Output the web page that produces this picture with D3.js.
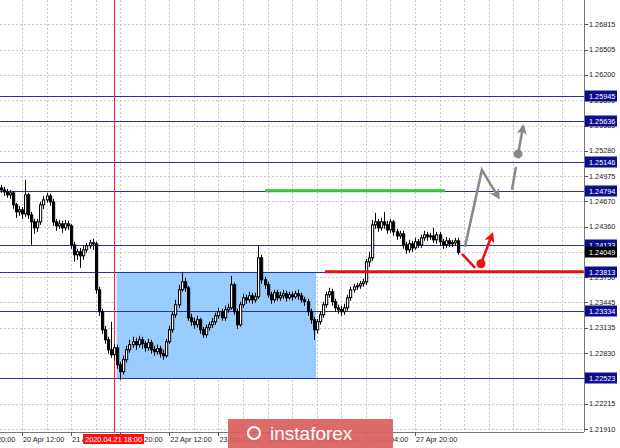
<!DOCTYPE html>
<html><head><meta charset="utf-8">
<script src="https://cdn.jsdelivr.net/npm/d3@7"></script>
<style>body{margin:0;background:#fff}svg{display:block}text{font-family:"Liberation Sans",Arial,sans-serif}</style>
</head><body><svg id="c" width="620" height="448"></svg>
<script>
// EURUSD-like H1 candles, bar index 0 = 20 Apr 05:00
const opens = [
1.24830,1.24806,1.24782,1.24746,1.24770,1.24625,1.24540,1.24564,1.24516,1.24746,
1.24504,1.24419,1.24346,1.24419,1.24625,1.24685,1.24733,1.24661,1.24419,1.24370,
1.24395,1.24346,1.24395,1.24370,1.24141,1.24020,1.24056,1.24007,1.24080,1.24128,
1.24165,1.24153,1.23596,1.23330,1.23112,1.22991,1.22870,1.22810,1.22894,1.22689,
1.22604,1.22749,1.22870,1.22931,1.22967,1.22931,1.22991,1.22943,1.22894,1.22955,
1.22870,1.22846,1.22882,1.22822,1.22797,1.22967,1.23112,1.23294,1.23415,1.23596,
1.23693,1.23620,1.23257,1.23209,1.23173,1.23233,1.23112,1.23052,1.23136,1.23173,
1.23209,1.23281,1.23330,1.23257,1.23354,1.23378,1.23657,1.23330,1.23173,1.23415,
1.23499,1.23475,1.23523,1.23475,1.23511,1.23983,1.23717,1.23657,1.23536,1.23475,
1.23560,1.23499,1.23523,1.23548,1.23499,1.23536,1.23511,1.23548,1.23523,1.23475,
1.23451,1.23330,1.23233,1.23112,1.23209,1.23294,1.23415,1.23536,1.23572,1.23451,
1.23378,1.23354,1.23330,1.23378,1.23499,1.23596,1.23632,1.23644,1.23669,1.23693,
1.23935,1.23983,1.24383,1.24419,1.24346,1.24419,1.24383,1.24322,1.24419,1.24298,
1.24249,1.24274,1.24141,1.24080,1.24153,1.24104,1.24177,1.24141,1.24225,1.24262,
1.24237,1.24249,1.24201,1.24262,1.24177,1.24141,1.24189,1.24153,1.24165,1.24189];
const highs = [
1.24866,1.24842,1.24818,1.24806,1.24794,1.24649,1.24612,1.24600,1.24927,1.24770,
1.24540,1.24455,1.24455,1.24661,1.24733,1.24770,1.24758,1.24697,1.24455,1.24443,
1.24431,1.24443,1.24431,1.24395,1.24177,1.24092,1.24104,1.24128,1.24165,1.24201,
1.24213,1.24177,1.23632,1.23366,1.23160,1.23027,1.23209,1.22943,1.22931,1.22725,
1.22797,1.22918,1.22991,1.23027,1.23015,1.23039,1.23027,1.22979,1.23003,1.22991,
1.22918,1.22931,1.22918,1.22870,1.23003,1.23160,1.23330,1.23475,1.23657,1.23813,
1.23741,1.23644,1.23306,1.23257,1.23281,1.23257,1.23148,1.23173,1.23209,1.23257,
1.23318,1.23378,1.23366,1.23403,1.23427,1.23765,1.23681,1.23366,1.23451,1.23548,
1.23536,1.23572,1.23560,1.23560,1.24128,1.24020,1.23753,1.23693,1.23572,1.23596,
1.23596,1.23572,1.23596,1.23584,1.23572,1.23572,1.23584,1.23596,1.23560,1.23511,
1.23487,1.23366,1.23269,1.23245,1.23330,1.23451,1.23572,1.23620,1.23608,1.23487,
1.23415,1.23403,1.23427,1.23536,1.23632,1.23669,1.23681,1.23704,1.23729,1.23971,
1.24056,1.24443,1.24528,1.24455,1.24467,1.24540,1.24431,1.24455,1.24443,1.24334,
1.24310,1.24310,1.24177,1.24201,1.24189,1.24225,1.24213,1.24262,1.24310,1.24298,
1.24286,1.24346,1.24298,1.24298,1.24213,1.24237,1.24225,1.24201,1.24225,1.24225];
const lows = [
1.24770,1.24733,1.24709,1.24697,1.24576,1.24467,1.24491,1.24455,1.24479,1.24455,
1.24141,1.24274,1.24298,1.24383,1.24576,1.24649,1.24612,1.24370,1.24310,1.24334,
1.24286,1.24310,1.24322,1.24092,1.23935,1.23959,1.23862,1.23959,1.24044,1.24092,
1.24080,1.23548,1.23281,1.23064,1.22943,1.22822,1.22773,1.22749,1.22640,1.22507,
1.22568,1.22713,1.22834,1.22894,1.22870,1.22894,1.22882,1.22846,1.22858,1.22822,
1.22797,1.22810,1.22773,1.22749,1.22773,1.22943,1.23076,1.23257,1.23378,1.23572,
1.23572,1.23221,1.23160,1.23124,1.23136,1.23064,1.23015,1.23015,1.23100,1.23136,
1.23173,1.23245,1.23221,1.23221,1.23318,1.23354,1.23294,1.23124,1.23148,1.23378,
1.23427,1.23439,1.23427,1.23439,1.23487,1.23669,1.23608,1.23499,1.23427,1.23439,
1.23463,1.23463,1.23487,1.23451,1.23475,1.23463,1.23487,1.23475,1.23439,1.23403,
1.23281,1.23185,1.22991,1.23064,1.23173,1.23257,1.23378,1.23499,1.23403,1.23330,
1.23306,1.23281,1.23294,1.23342,1.23463,1.23560,1.23596,1.23608,1.23632,1.23657,
1.23874,1.23947,1.24334,1.24298,1.24310,1.24334,1.24274,1.24286,1.24249,1.24201,
1.24213,1.24092,1.24032,1.24044,1.24056,1.24080,1.24104,1.24104,1.24189,1.24189,
1.24201,1.24165,1.24153,1.24128,1.24092,1.24104,1.24116,1.24116,1.24128,1.24020];
const closes = [
1.24806,1.24782,1.24746,1.24770,1.24625,1.24540,1.24564,1.24516,1.24746,1.24504,
1.24419,1.24346,1.24419,1.24625,1.24685,1.24733,1.24661,1.24419,1.24370,1.24395,
1.24346,1.24395,1.24370,1.24141,1.24020,1.24056,1.24007,1.24080,1.24128,1.24165,
1.24153,1.23596,1.23330,1.23112,1.22991,1.22870,1.22810,1.22894,1.22689,1.22604,
1.22749,1.22870,1.22931,1.22967,1.22931,1.22991,1.22943,1.22894,1.22955,1.22870,
1.22846,1.22882,1.22822,1.22797,1.22967,1.23112,1.23294,1.23415,1.23596,1.23693,
1.23620,1.23257,1.23209,1.23173,1.23233,1.23112,1.23052,1.23136,1.23173,1.23209,
1.23281,1.23330,1.23257,1.23354,1.23378,1.23657,1.23330,1.23173,1.23415,1.23499,
1.23475,1.23523,1.23475,1.23511,1.23983,1.23717,1.23657,1.23536,1.23475,1.23560,
1.23499,1.23523,1.23548,1.23499,1.23536,1.23511,1.23548,1.23523,1.23475,1.23451,
1.23330,1.23233,1.23112,1.23209,1.23294,1.23415,1.23536,1.23572,1.23451,1.23378,
1.23354,1.23330,1.23378,1.23499,1.23596,1.23632,1.23644,1.23669,1.23693,1.23935,
1.23983,1.24383,1.24419,1.24346,1.24419,1.24383,1.24322,1.24419,1.24298,1.24249,
1.24274,1.24141,1.24080,1.24153,1.24104,1.24177,1.24141,1.24225,1.24262,1.24237,
1.24249,1.24201,1.24262,1.24177,1.24141,1.24189,1.24153,1.24165,1.24189,1.24049];

const yTicks = [1.26815,1.26505,1.26200,1.25890,1.25585,1.25280,1.24975,1.24670,1.24360,1.24055,1.23750,1.23445,1.23135,1.22830,1.22525,1.22215,1.21910];
const levels = [1.25945,1.25636,1.25146,1.24794,1.24133,1.23813,1.23334,1.22523];
const bidPrice = 1.24049;
const timeIdx = [-9,7,23,39,55,71,87,103,119,135];
const timeText = ["17 Apr 20:00","20 Apr 12:00","21 Apr 04:00","21 Apr 20:00","22 Apr 12:00","23 Apr 04:00","23 Apr 20:00","24 Apr 12:00","27 Apr 04:00","27 Apr 20:00"];
const vlineIdx = 37, vlineText = "2020.04.21 18:00";
const rangeBox = {i0: 37.8, i1: 102.8, p0: 1.23813, p1: 1.22523};
const greenSeg = {i0: 86.2, i1: 144.8, p: 1.24794};
const redSeg = {i0: 105.7, i1: 190, p: 1.23813};
const grayZig = [[151.3,1.24116],[156.8,1.25048],[162.1,1.24721]];
const grayDash = [[166.6,1.24806],[167.9,1.25084]];
const grayDot = [168.6,1.25242], grayTip = [170.2,1.25568];
const redPath = [[150.3,1.24032],[154.6,1.23862]];
const redDot = [156.5,1.23911], redTip = [160.1,1.24262];

const W = 620, H = 448, plotR = 584, plotB = 432;
const svg = d3.select("#c");
const x = d3.scaleLinear().domain([0, 190]).range([0.5, 583.8]);
const y = d3.scaleLinear().domain([1.21910, 1.26815]).range([429, 24]);

svg.append("rect").attr("width", W).attr("height", H).attr("fill", "#fff");
const defs = svg.append("defs");
defs.append("clipPath").attr("id","pc").append("rect").attr("x",0).attr("y",0).attr("width",plotR).attr("height",plotB);
function marker(id, col){
  defs.append("marker").attr("id",id).attr("viewBox","0 0 10 10").attr("refX",7).attr("refY",5)
    .attr("markerWidth",4).attr("markerHeight",4).attr("orient","auto")
    .append("path").attr("d","M0,0 L10,5 L0,10 L2.5,5 z").attr("fill",col);
}
marker("ag","#8a8a8a"); marker("ar","#ee1111");

const g = svg.append("g").attr("clip-path","url(#pc)");
// grid
const vgrid = d3.range(7, 191, 8);
g.selectAll(".vg").data(vgrid).join("line").attr("x1",d=>Math.round(x(d))+0.5).attr("x2",d=>Math.round(x(d))+0.5)
  .attr("y1",0).attr("y2",plotB).attr("stroke","#c8c8c8").attr("stroke-dasharray","2,2");
g.selectAll(".hg").data(yTicks).join("line").attr("x1",0).attr("x2",plotR)
  .attr("y1",d=>Math.round(y(d))+0.5).attr("y2",d=>Math.round(y(d))+0.5).attr("stroke","#c8c8c8").attr("stroke-dasharray","2,2");

// range box
g.append("rect").attr("x",x(rangeBox.i0)).attr("width",x(rangeBox.i1)-x(rangeBox.i0))
  .attr("y",y(rangeBox.p0)).attr("height",y(rangeBox.p1)-y(rangeBox.p0)).attr("fill","#99ccff");

// level lines
g.selectAll(".lv").data(levels).join("line").attr("x1",0).attr("x2",plotR)
  .attr("y1",d=>Math.round(y(d))+0.5).attr("y2",d=>Math.round(y(d))+0.5).attr("stroke","#2c2cb0").attr("stroke-width",1);

// vertical red line
g.append("line").attr("x1",Math.round(x(vlineIdx))+0.5).attr("x2",Math.round(x(vlineIdx))+0.5).attr("y1",0).attr("y2",plotB)
  .attr("stroke","#ff2020").attr("stroke-width",1);

// candles
const idx = d3.range(closes.length);
g.selectAll(".wk").data(idx).join("line")
  .attr("x1",i=>Math.round(x(i))+0.5).attr("x2",i=>Math.round(x(i))+0.5)
  .attr("y1",i=>y(highs[i])).attr("y2",i=>y(lows[i])).attr("stroke","#000").attr("stroke-width",1);
g.selectAll(".bd").data(idx).join("rect")
  .attr("x",i=>Math.round(x(i))-0.5).attr("width",2.2)
  .attr("y",i=>y(Math.max(opens[i],closes[i])))
  .attr("height",i=>Math.max(1,Math.abs(y(opens[i])-y(closes[i]))))
  .attr("fill",i=>closes[i]>=opens[i]?"#fff":"#000")
  .attr("stroke","#000").attr("stroke-width",1);

// green & red segments
g.append("line").attr("x1",x(greenSeg.i0)).attr("x2",x(greenSeg.i1)).attr("y1",y(greenSeg.p)).attr("y2",y(greenSeg.p))
  .attr("stroke","#33c433").attr("stroke-width",3);
g.append("line").attr("x1",x(redSeg.i0)).attr("x2",x(redSeg.i1)).attr("y1",y(redSeg.p)).attr("y2",y(redSeg.p))
  .attr("stroke","#e41111").attr("stroke-width",3);

// arrows
const line = d3.line().x(d=>x(d[0])).y(d=>y(d[1]));
g.append("path").attr("d",line(grayZig)).attr("fill","none").attr("stroke","#8a8a8a").attr("stroke-width",2.6).attr("marker-end","url(#ag)");
g.append("path").attr("d",line(grayDash)).attr("fill","none").attr("stroke","#8a8a8a").attr("stroke-width",2.6);
g.append("circle").attr("cx",x(grayDot[0])).attr("cy",y(grayDot[1])).attr("r",4.5).attr("fill","#8a8a8a");
g.append("path").attr("d",line([grayDot,grayTip])).attr("fill","none").attr("stroke","#8a8a8a").attr("stroke-width",2.6).attr("marker-end","url(#ag)");
g.append("path").attr("d",line(redPath)).attr("fill","none").attr("stroke","#ee1111").attr("stroke-width",2.6);
g.append("circle").attr("cx",x(redDot[0])).attr("cy",y(redDot[1])).attr("r",4.5).attr("fill","#ee1111");
g.append("path").attr("d",line([redDot,redTip])).attr("fill","none").attr("stroke","#ee1111").attr("stroke-width",2.6).attr("marker-end","url(#ar)");

// axes lines
svg.append("line").attr("x1",plotR+0.5).attr("x2",plotR+0.5).attr("y1",0).attr("y2",plotB).attr("stroke","#777");
svg.append("line").attr("x1",0).attr("x2",plotR).attr("y1",plotB+0.5).attr("y2",plotB+0.5).attr("stroke","#777");

// y ticks
const fs = 7.3;
svg.selectAll(".yt").data(yTicks).join("line").attr("x1",plotR).attr("x2",plotR+4)
  .attr("y1",d=>Math.round(y(d))+0.5).attr("y2",d=>Math.round(y(d))+0.5).attr("stroke","#555");
svg.selectAll(".yl").data(yTicks).join("text").attr("x",plotR+5).attr("y",d=>y(d)+2.6)
  .attr("font-size",fs).attr("fill","#222").text(d=>d.toFixed(5));

// level labels
const lab = svg.selectAll(".lb").data(levels).join("g").attr("transform",d=>`translate(${plotR+1},${Math.round(y(d))})`);
lab.append("rect").attr("x",0).attr("y",-5.5).attr("width",32).attr("height",11).attr("fill","#0d0d8c");
lab.append("text").attr("x",4).attr("y",2.7).attr("font-size",fs).attr("fill","#fff").text(d=>d.toFixed(5));
const bl = svg.append("g").attr("transform",`translate(${plotR+1},${Math.round(y(bidPrice))})`);
bl.append("rect").attr("x",0).attr("y",-5.5).attr("width",32).attr("height",11).attr("fill","#000");
bl.append("text").attr("x",4).attr("y",2.7).attr("font-size",fs).attr("fill","#fff").text(bidPrice.toFixed(5));

// x ticks
svg.selectAll(".xt").data(timeIdx).join("line").attr("x1",i=>Math.round(x(i))+0.5).attr("x2",i=>Math.round(x(i))+0.5)
  .attr("y1",plotB).attr("y2",plotB+4).attr("stroke","#555");
svg.selectAll(".xl").data(timeIdx).join("text").attr("x",i=>x(i)+1).attr("y",442)
  .attr("font-size",fs).attr("fill","#222").text((i,k)=>timeText[k]);
// vertical line date label
const vx = x(vlineIdx);
svg.append("rect").attr("x",vx-31).attr("y",434).attr("width",61).attr("height",10).attr("fill","#ff1010");
svg.append("text").attr("x",vx-0.5).attr("y",441.8).attr("text-anchor","middle").attr("font-size",fs).attr("fill","#fff").text(vlineText);

// watermark
const wm = svg.append("g");
wm.append("rect").attr("x",228).attr("y",419).attr("width",165).attr("height",29).attr("fill","#dc5f5f").attr("opacity",0.93);
wm.append("circle").attr("cx",254).attr("cy",433).attr("r",6).attr("fill","none").attr("stroke","#fff").attr("stroke-width",2.2);
wm.append("text").attr("x",270).attr("y",440).attr("font-size",19).attr("font-family","'Open Sans',sans-serif").attr("fill","#fff").text("instaforex");
</script></body></html>
